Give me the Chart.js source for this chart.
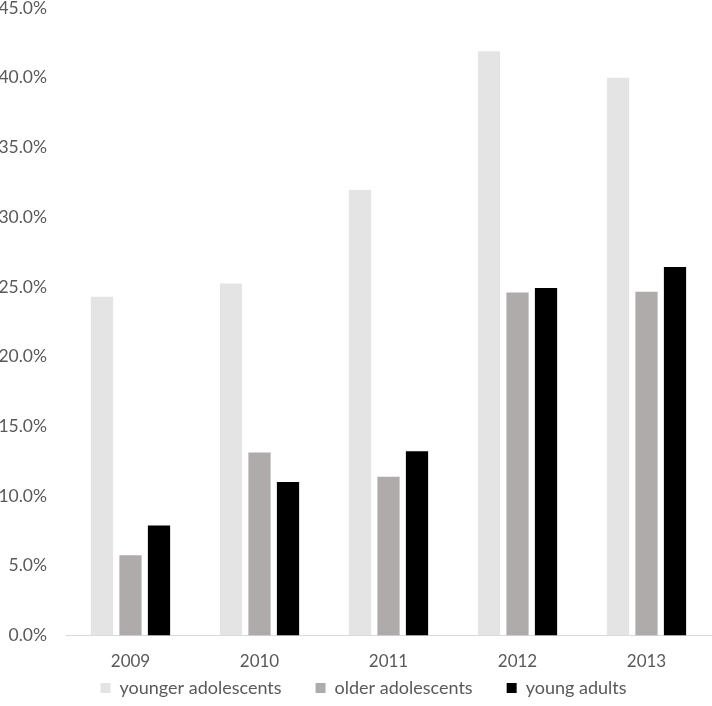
<!DOCTYPE html>
<html>
<head>
<meta charset="utf-8">
<script src="https://cdn.jsdelivr.net/npm/chart.js@4/dist/chart.umd.min.js"></script>
<style>
  html, body { margin: 0; padding: 0; background: #fff; }
  #wrap { width: 712px; height: 706px; }
</style>
</head>
<body>
<div id="wrap"><canvas id="chart" width="712" height="706"></canvas></div>
<script>
  const years = ['2009', '2010', '2011', '2012', '2013'];
  const youngerAdolescents = [24.3, 25.25, 31.95, 41.9, 40.0];
  const olderAdolescents = [5.75, 13.12, 11.38, 24.6, 24.65];
  const youngAdults = [7.88, 11.0, 13.22, 24.92, 26.42];
  const yTicks = [0, 5, 10, 15, 20, 25, 30, 35, 40, 45];

  const fontFamily = 'Lato, "Open Sans", sans-serif';
  const textColor = '#595959';

  // legend: wide padding between items, but a short box, drawn a bit higher
  const legendPlace = {
    id: 'legendPlace',
    beforeInit(chart) {
      const legend = chart.legend;
      const fit = legend.fit;
      legend.fit = function () {
        fit.call(this);
        if (this.isHorizontal()) this.height = 32.5;
      };
    },
    afterLayout(chart) {
      const legend = chart.legend;
      legend.top = 645;
      legend.bottom = chart.height;
      legend.height = legend.bottom - legend.top;
      legend.left += 8;
      legend.right += 8;
    }
  };

  const ctx = document.getElementById('chart').getContext('2d');
  new Chart(ctx, {
    type: 'bar',
    data: {
      labels: years,
      datasets: [
        { label: 'younger adolescents', data: youngerAdolescents, backgroundColor: '#e4e4e4' },
        { label: 'older adolescents', data: olderAdolescents, backgroundColor: '#afabab' },
        { label: 'young adults', data: youngAdults, backgroundColor: '#000000' }
      ]
    },
    plugins: [legendPlace],
    options: {
      responsive: false,
      animation: false,
      categoryPercentage: 0.663,
      barPercentage: 0.78,
      layout: { padding: { top: 8, right: 1, bottom: 0, left: 0 } },
      plugins: {
        tooltip: { enabled: false },
        legend: {
          position: 'bottom',
          labels: {
            color: textColor,
            font: { family: fontFamily, size: 18 },
            boxWidth: 10,
            boxHeight: 10,
            padding: 34
          }
        }
      },
      scales: {
        x: {
          grid: { display: false, drawTicks: false },
          border: { display: true, color: '#d9d9d9', width: 1 },
          ticks: { color: textColor, font: { family: fontFamily, size: 17 }, padding: 16 },
          afterFit: (scale) => { scale.height = 38; }
        },
        y: {
          min: 0,
          max: 45,
          grid: { display: false, drawTicks: false },
          border: { display: false },
          afterBuildTicks: (scale) => { scale.ticks = yTicks.map(v => ({ value: v })); },
          ticks: {
            color: textColor,
            font: { family: fontFamily, size: 17.5 },
            padding: 19,
            callback: (v) => v.toFixed(1) + '%'
          },
          afterFit: (scale) => {
            scale.width = 66;
            scale.paddingTop = 0;
            scale.paddingBottom = 0;
          }
        }
      }
    }
  });
</script>
</body>
</html>
